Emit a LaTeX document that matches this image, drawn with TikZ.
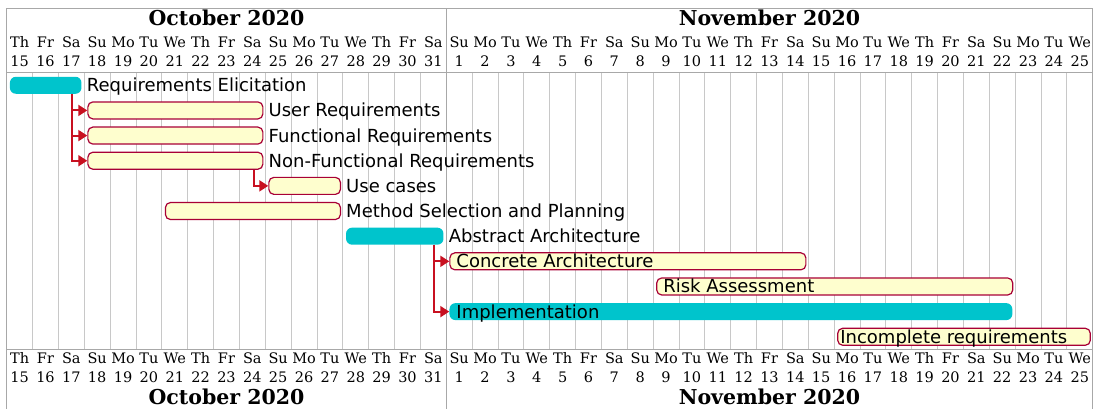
\documentclass[tikz,border=0pt]{standalone}
\usepackage{fontspec}
\setmainfont{DejaVu Sans}
\newfontfamily\hdrfont{DejaVu Serif}
\usetikzlibrary{arrows.meta}
\definecolor{barfill}{HTML}{FEFECE}
\definecolor{barline}{HTML}{A80036}
\definecolor{tealbar}{HTML}{00C4CC}
\definecolor{arrowred}{RGB}{200,16,32}
\definecolor{gridc}{HTML}{C8C8C8}
\definecolor{framec}{HTML}{A8A8A8}
\newcommand\gbar[5]{%
  \pgfmathsetmacro\bl{6.7+#3*25.857+3}%
  \pgfmathsetmacro\bw{(#4-#3+1)*25.857-6}%
  \pgfmathsetmacro\by{72.7+25.15*(#5+0.5)}%
  \node[#2, minimum width=\bw pt] (#1) at (\bl,\by) {};%
}
\begin{document}
\begin{tikzpicture}[x=1pt,y=-1pt,
  taskbar/.style={draw=barline, fill=barfill, line width=1.2pt, rounded corners=5pt, inner sep=0pt, minimum height=17pt, anchor=west},
  donebar/.style={fill=tealbar, rounded corners=6pt, inner sep=0pt, minimum height=17pt, anchor=west},
  lbl/.style={font=\fontsize{18}{18}\selectfont, inner sep=0pt, anchor=base west},
  dep/.style={draw=arrowred, line width=2pt, -{Triangle[length=9pt,width=11pt]}},
  dayname/.style={font=\hdrfont\fontsize{14.5}{14.5}\selectfont, inner sep=0pt, anchor=base},
  monthname/.style={font=\hdrfont\bfseries\fontsize{20.5}{20.5}\selectfont, inner sep=0pt, anchor=base},
  gridline/.style={draw=gridc, line width=0.8pt},
  frameline/.style={draw=framec, line width=1pt}]
\useasboundingbox (0,0) rectangle (1095,408);
\fill[white] (0,0) rectangle (1095,408);
% grid
\foreach \i in {1,...,41}{
  \pgfmathsetmacro\gx{6.7+\i*25.857}
  \draw[gridline] (\gx,72.7) -- (\gx,349.3);
}
\draw[frameline] (6.7,72.7) -- (1092.7,72.7);
\draw[frameline] (6.7,349.3) -- (1092.7,349.3);
\draw[frameline] (6.7,410) -- (6.7,8.3) -- (1092.7,8.3) -- (1092.7,410);
\draw[frameline] (446.3,8.3) -- (446.3,410);
% header texts
\foreach \i in {0,...,41}{
  \pgfmathsetmacro\dx{6.7+(\i+0.5)*25.857}
  \pgfmathparse{{"Th","Fr","Sa","Su","Mo","Tu","We"}[mod(\i,7)]}\let\dn\pgfmathresult
  \pgfmathtruncatemacro\dnum{\i<17 ? 15+\i : \i-16}
  \node[dayname] (tn\i) at (\dx,47.8) {\dn};
  \node[dayname] (tu\i) at (\dx,66.3) {\dnum};
  \node[dayname] (bn\i) at (\dx,363.3) {\dn};
  \node[dayname] (bu\i) at (\dx,382.3) {\dnum};
}
\node[monthname] (mot) at (226.5,25.3) {October 2020};
\node[monthname] (mnt) at (769.5,25.3) {November 2020};
\node[monthname] (mob) at (226.5,404.5) {October 2020};
\node[monthname] (mnb) at (769.5,404.5) {November 2020};
% bars
\gbar{re}{donebar}{0}{2}{0}
\gbar{ur}{taskbar}{3}{9}{1}
\gbar{fr}{taskbar}{3}{9}{2}
\gbar{nf}{taskbar}{3}{9}{3}
\gbar{uc}{taskbar}{10}{12}{4}
\gbar{ms}{taskbar}{6}{12}{5}
\gbar{aa}{donebar}{13}{16}{6}
\gbar{ca}{taskbar}{17}{30}{7}
\gbar{ra}{taskbar}{25}{38}{8}
\gbar{im}{donebar}{17}{38}{9}
\gbar{ir}{taskbar}{32}{41}{10}
% labels
\node[lbl] (lre) at ([xshift=5pt,yshift=-6.5pt]re.east) {Requirements Elicitation};
\node[lbl] (lur) at ([xshift=5pt,yshift=-6.5pt]ur.east) {User Requirements};
\node[lbl] (lfr) at ([xshift=5pt,yshift=-6.5pt]fr.east) {Functional Requirements};
\node[lbl] (lnf) at ([xshift=5pt,yshift=-6.5pt]nf.east) {Non-Functional Requirements};
\node[lbl] (luc) at ([xshift=5pt,yshift=-6.5pt]uc.east) {Use cases};
\node[lbl] (lms) at ([xshift=5pt,yshift=-6.5pt]ms.east) {Method Selection and Planning};
\node[lbl] (laa) at ([xshift=5pt,yshift=-6.5pt]aa.east) {Abstract Architecture};
\node[lbl] (lca) at ([xshift=7pt,yshift=-6.5pt]ca.west) {Concrete Architecture};
\node[lbl] (lra) at ([xshift=7pt,yshift=-6.5pt]ra.west) {Risk Assessment};
\node[lbl] (lim) at ([xshift=7pt,yshift=-6.5pt]im.west) {Implementation};
\node[lbl] (lir) at ([xshift=3pt,yshift=-6.5pt]ir.west) {Incomplete requirements};
% dependencies
\draw[dep] ([xshift=-10pt]re.south east) |- (ur.west);
\draw[dep] ([xshift=-10pt]re.south east) |- (fr.west);
\draw[dep] ([xshift=-10pt]re.south east) |- (nf.west);
\draw[dep] ([xshift=-9pt]nf.south east) |- (uc.west);
\draw[dep] ([xshift=-10pt]aa.south east) |- (ca.west);
\draw[dep] ([xshift=-10pt]aa.south east) |- (im.west);
\end{tikzpicture}
\end{document}
